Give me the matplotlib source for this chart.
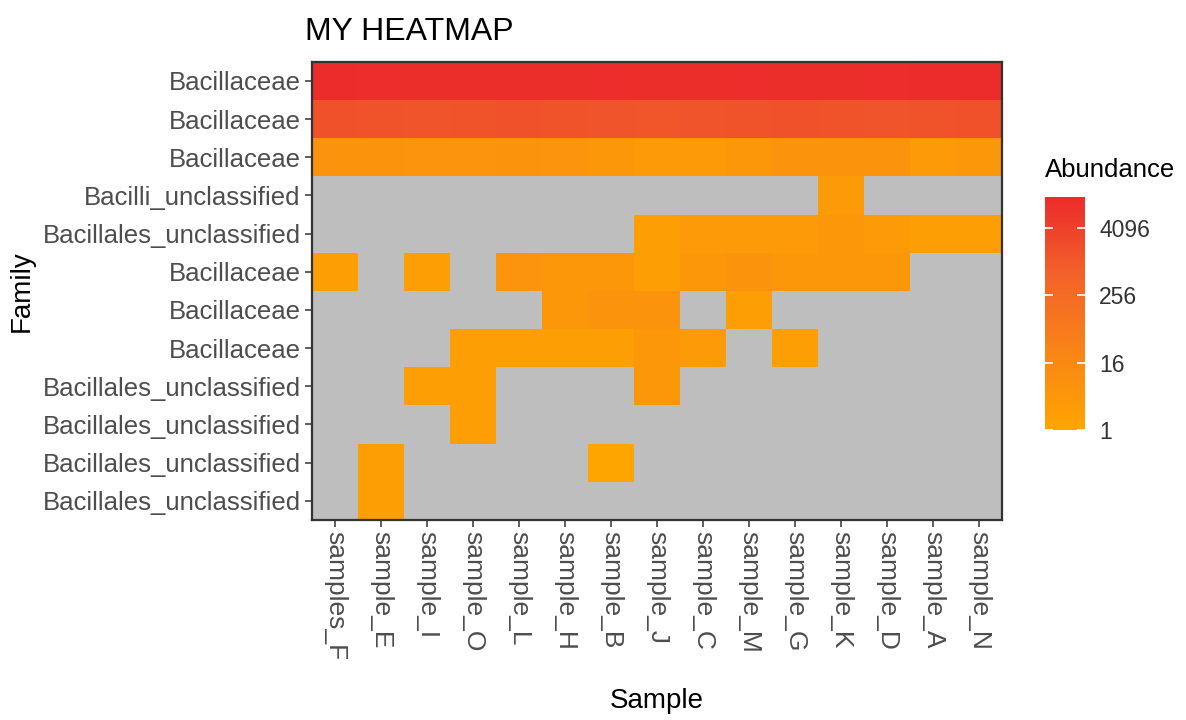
import numpy as np
import matplotlib
matplotlib.use("Agg")
import matplotlib.pyplot as plt
from matplotlib.colors import LinearSegmentedColormap, LogNorm

plt.rcParams['font.family'] = ['Liberation Sans', 'DejaVu Sans']

# samples along x, families along y (top to bottom)
samples = ['samples_F', 'sample_E', 'sample_I', 'sample_O', 'sample_L', 'sample_H',
           'sample_B', 'sample_J', 'sample_C', 'sample_M', 'sample_G', 'sample_K',
           'sample_D', 'sample_A', 'sample_N']
families = ['Bacillaceae', 'Bacillaceae', 'Bacillaceae', 'Bacilli_unclassified',
            'Bacillales_unclassified', 'Bacillaceae', 'Bacillaceae', 'Bacillaceae',
            'Bacillales_unclassified', 'Bacillales_unclassified',
            'Bacillales_unclassified', 'Bacillales_unclassified']

na = np.nan
# abundance per family row, NA where the family was not found
abundance = [
    [15000, 13000, 12500, 12000, 12000, 12500, 13000, 12000, 12500, 13000, 12000, 12500, 13000, 14000, 14500],
    [1600, 1500, 1400, 1500, 1600, 1500, 1400, 1300, 1400, 1500, 1600, 1500, 1400, 1500, 1600],
    [6, 6, 5, 5, 6, 5, 4, 3, 3, 4, 6, 6, 6, 3, 4],
    [na, na, na, na, na, na, na, na, na, na, na, 3, na, na, na],
    [na, na, na, na, na, na, na, 2, 3, 3, 3, 4, 3, 2, 2],
    [2, na, 2, na, 5, 4, 4, 2, 4, 6, 4, 4, 4, na, na],
    [na, na, na, na, na, 4, 6, 6, na, 2, na, na, na, na, na],
    [na, na, na, 2, 2, 2, 2, 4, 3, na, 2, na, na, na, na],
    [na, na, 2, 2, na, na, na, 4, na, na, na, na, na, na, na],
    [na, na, na, 2, na, na, na, na, na, na, na, na, na, na, na],
    [na, 2, na, na, na, na, 1, na, na, na, na, na, na, na, na],
    [na, 2, na, na, na, na, na, na, na, na, na, na, na, na, na],
]
cbar_ticks = [1, 16, 256, 4096]

data = np.ma.masked_invalid(np.array(abundance, dtype=float))

cmap = LinearSegmentedColormap.from_list(
    'orange_red', ['#FFA500', '#F98416', '#F2622A', '#EC2B2B'])
cmap.set_bad('#BEBEBE')
norm = LogNorm(vmin=1, vmax=np.nanmax(np.array(abundance, dtype=float)))

fig = plt.figure(figsize=(11.86, 7.2), dpi=100)
ax = fig.add_axes([0.263, 0.278, 0.582, 0.636])

mesh = ax.pcolormesh(np.arange(len(samples) + 1) - 0.5,
                     np.arange(len(families) + 1) - 0.5,
                     data, cmap=cmap, norm=norm)
ax.set_xlim(-0.5, len(samples) - 0.5)
ax.set_ylim(len(families) - 0.5, -0.5)

ax.set_xticks(range(len(samples)))
ax.set_xticklabels(samples, rotation=-90, va='top', ha='center', fontsize=19)
ax.set_yticks(range(len(families)))
ax.set_yticklabels(families, fontsize=18.5)
ax.tick_params(axis='both', labelcolor='#4D4D4D',
               color='#333333', length=5, width=1.1, pad=3)

for spine in ax.spines.values():
    spine.set_color('#333333')
    spine.set_linewidth(1.6)

ax.set_xlabel('Sample', fontsize=20, labelpad=20)
ax.set_ylabel('Family', fontsize=20, labelpad=6)
ax.set_title('MY HEATMAP', fontsize=23, loc='left', x=-0.01, pad=16)

# legend bar
cax = fig.add_axes([0.881, 0.403, 0.034, 0.324])
cbar = fig.colorbar(mesh, cax=cax, ticks=cbar_ticks)
cbar.outline.set_visible(False)
cbar.ax.set_yticklabels([str(t) for t in cbar_ticks])
cbar.ax.minorticks_off()
cbar.ax.tick_params(direction='in', color='white', length=6, width=1.2,
                    left=True, right=True, labelsize=16.5, labelcolor='#333333', pad=10)
fig.text(0.881, 0.747, 'Abundance', fontsize=18.5, ha='left', va='bottom')

fig.savefig('out.png', dpi=100)
